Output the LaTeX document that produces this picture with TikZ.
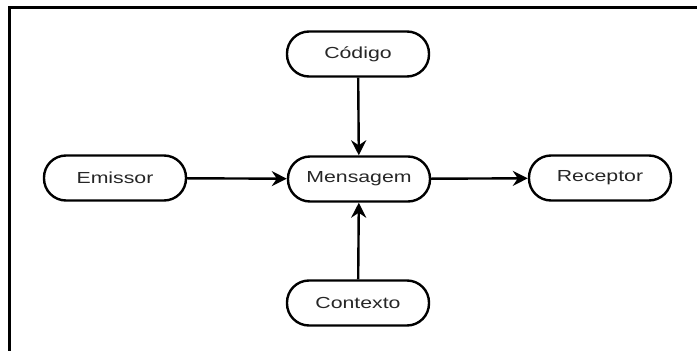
\documentclass[tikz,border=0pt]{standalone}
\usepackage{fontspec}
\newfontfamily\labfont[FakeStretch=1.33]{Liberation Sans}
\usetikzlibrary{arrows.meta}
\begin{document}
\begin{tikzpicture}[x=1pt,y=-1pt,
  term/.style={draw=black, line width=2.4pt, rounded corners=22pt,
    minimum width=142pt, minimum height=45pt, inner sep=0pt,
    font=\labfont\fontsize{16}{18}\selectfont, text=black!85},
  link/.style={line width=2.4pt, -{Stealth[length=15pt,width=15pt,inset=5pt]}}]
\useasboundingbox (0,0) rectangle (697,351);
\draw[line width=3pt] (9,351) -- (9,7) -- (697,7);
\node[term] (cod) at (358,54) {Código};
\node[term] (emi) at (115,178) {Emissor};
\node[term] (men) at (359,179) {Mensagem};
\node[term] (rec) at (600,178) {Receptor};
\node[term] (con) at (358,303) {Contexto};
\draw[link] (cod) -- (men);
\draw[link] (emi) -- (men);
\draw[link] (men) -- (rec);
\draw[link] (con) -- (men);
\end{tikzpicture}
\end{document}
